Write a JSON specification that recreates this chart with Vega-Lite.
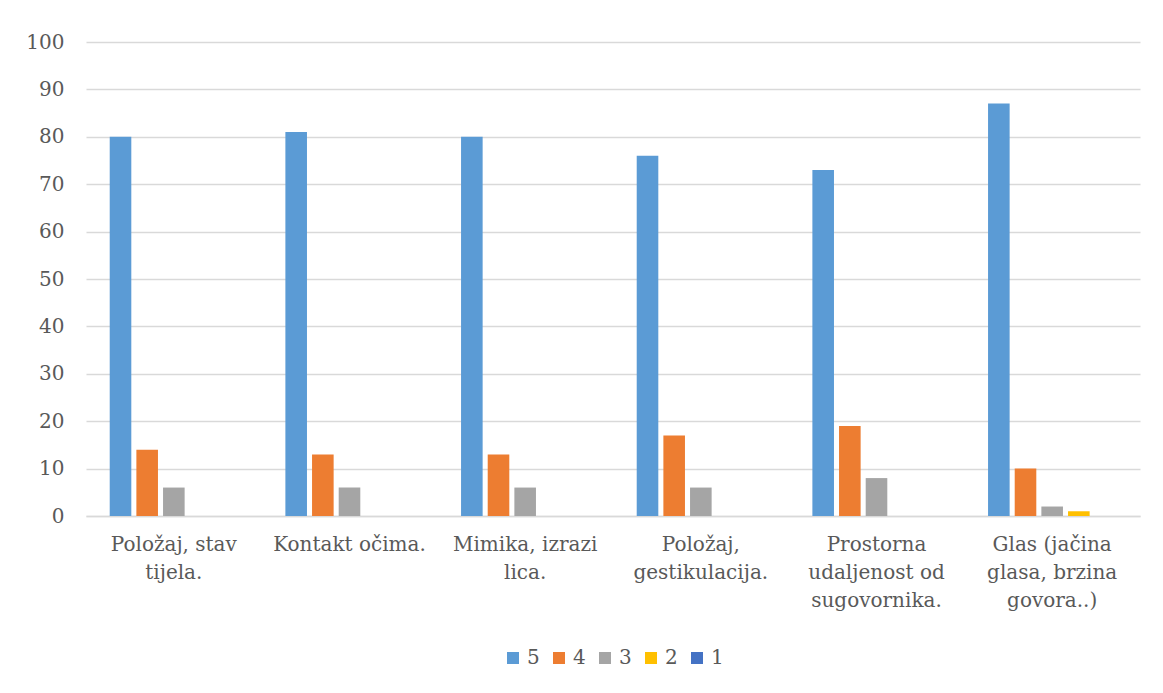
{
  "$schema": "https://vega.github.io/schema/vega-lite/v6.json",
  "autosize": {"type": "none"},
  "padding": {"left": 86, "top": 42, "right": 23, "bottom": 177},
  "width": 1054,
  "height": 474,
  "background": "white",
  "data": {"values": [
    {"kategorija": "Položaj, stav tijela.", "ocjena": "5", "vrijednost": 80},
    {"kategorija": "Položaj, stav tijela.", "ocjena": "4", "vrijednost": 14},
    {"kategorija": "Položaj, stav tijela.", "ocjena": "3", "vrijednost": 6},
    {"kategorija": "Položaj, stav tijela.", "ocjena": "2", "vrijednost": 0},
    {"kategorija": "Položaj, stav tijela.", "ocjena": "1", "vrijednost": 0},
    {"kategorija": "Kontakt očima.", "ocjena": "5", "vrijednost": 81},
    {"kategorija": "Kontakt očima.", "ocjena": "4", "vrijednost": 13},
    {"kategorija": "Kontakt očima.", "ocjena": "3", "vrijednost": 6},
    {"kategorija": "Kontakt očima.", "ocjena": "2", "vrijednost": 0},
    {"kategorija": "Kontakt očima.", "ocjena": "1", "vrijednost": 0},
    {"kategorija": "Mimika, izrazi lica.", "ocjena": "5", "vrijednost": 80},
    {"kategorija": "Mimika, izrazi lica.", "ocjena": "4", "vrijednost": 13},
    {"kategorija": "Mimika, izrazi lica.", "ocjena": "3", "vrijednost": 6},
    {"kategorija": "Mimika, izrazi lica.", "ocjena": "2", "vrijednost": 0},
    {"kategorija": "Mimika, izrazi lica.", "ocjena": "1", "vrijednost": 0},
    {"kategorija": "Položaj, gestikulacija.", "ocjena": "5", "vrijednost": 76},
    {"kategorija": "Položaj, gestikulacija.", "ocjena": "4", "vrijednost": 17},
    {"kategorija": "Položaj, gestikulacija.", "ocjena": "3", "vrijednost": 6},
    {"kategorija": "Položaj, gestikulacija.", "ocjena": "2", "vrijednost": 0},
    {"kategorija": "Položaj, gestikulacija.", "ocjena": "1", "vrijednost": 0},
    {"kategorija": "Prostorna udaljenost od sugovornika.", "ocjena": "5", "vrijednost": 73},
    {"kategorija": "Prostorna udaljenost od sugovornika.", "ocjena": "4", "vrijednost": 19},
    {"kategorija": "Prostorna udaljenost od sugovornika.", "ocjena": "3", "vrijednost": 8},
    {"kategorija": "Prostorna udaljenost od sugovornika.", "ocjena": "2", "vrijednost": 0},
    {"kategorija": "Prostorna udaljenost od sugovornika.", "ocjena": "1", "vrijednost": 0},
    {"kategorija": "Glas (jačina glasa, brzina govora..)", "ocjena": "5", "vrijednost": 87},
    {"kategorija": "Glas (jačina glasa, brzina govora..)", "ocjena": "4", "vrijednost": 10},
    {"kategorija": "Glas (jačina glasa, brzina govora..)", "ocjena": "3", "vrijednost": 2},
    {"kategorija": "Glas (jačina glasa, brzina govora..)", "ocjena": "2", "vrijednost": 1},
    {"kategorija": "Glas (jačina glasa, brzina govora..)", "ocjena": "1", "vrijednost": 0}
  ]},
  "mark": {"type": "bar"},
  "encoding": {
    "x": {
      "field": "kategorija",
      "type": "nominal",
      "sort": null,
      "scale": {"paddingInner": 0.27, "paddingOuter": 0.135},
      "axis": {
        "title": null,
        "labelAngle": 0,
        "ticks": false,
        "domain": true,
        "domainColor": "#D9D9D9",
        "domainWidth": 1.5,
        "labelPadding": 18,
        "labelFontSize": 20,
        "labelColor": "#595959",
        "labelLineHeight": 28,
        "labelBaseline": "top",
        "labelExpr": "datum.label == 'Položaj, stav tijela.' ? ['Položaj, stav', 'tijela.'] : datum.label == 'Mimika, izrazi lica.' ? ['Mimika, izrazi', 'lica.'] : datum.label == 'Položaj, gestikulacija.' ? ['Položaj,', 'gestikulacija.'] : datum.label == 'Prostorna udaljenost od sugovornika.' ? ['Prostorna', 'udaljenost od', 'sugovornika.'] : datum.label == 'Glas (jačina glasa, brzina govora..)' ? ['Glas (jačina', 'glasa, brzina', 'govora..)'] : datum.label"
      }
    },
    "xOffset": {
      "field": "ocjena",
      "type": "nominal",
      "sort": ["5", "4", "3", "2", "1"],
      "scale": {"paddingInner": 0.19, "paddingOuter": 0}
    },
    "y": {
      "field": "vrijednost",
      "type": "quantitative",
      "scale": {"domain": [0, 100]},
      "axis": {
        "title": null,
        "values": [0, 10, 20, 30, 40, 50, 60, 70, 80, 90, 100],
        "ticks": false,
        "domain": false,
        "grid": true,
        "gridColor": "#D9D9D9",
        "gridWidth": 1.5,
        "labelPadding": 22,
        "labelFontSize": 20,
        "labelColor": "#595959"
      }
    },
    "color": {
      "field": "ocjena",
      "type": "nominal",
      "sort": ["5", "4", "3", "2", "1"],
      "scale": {"domain": ["5", "4", "3", "2", "1"], "range": ["#5B9BD5", "#ED7D31", "#A5A5A5", "#FFC000", "#4472C4"]},
      "legend": {
        "title": null,
        "orient": "bottom",
        "direction": "horizontal",
        "offset": 38,
        "symbolType": "square",
        "symbolSize": 144,
        "symbolStrokeWidth": 0,
        "labelFontSize": 20,
        "labelColor": "#595959",
        "columnPadding": 9,
        "labelOffset": 4
      }
    }
  },
  "config": {
    "font": "DejaVu Serif",
    "axis": {"labelFont": "DejaVu Serif"},
    "legend": {"labelFont": "DejaVu Serif", "layout": {"bottom": {"anchor": "middle"}}},
    "view": {"stroke": null}
  }
}
